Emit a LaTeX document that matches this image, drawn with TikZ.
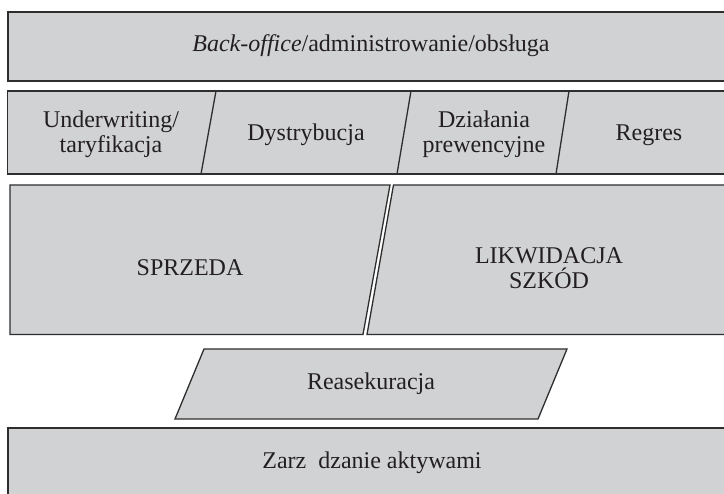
\documentclass[tikz,border=0pt]{standalone}
\usepackage{fontspec}
\setmainfont{Liberation Serif}
\begin{document}
\begin{tikzpicture}[x=1pt,y=-1pt,
  blk/.style={draw=lineC,fill=fillC,line width=1.3pt,line join=miter},
  divl/.style={draw=lineC,line width=1.3pt},
  lbl/.style={text=textC,font=\fontsize{24}{25}\selectfont,align=center,inner sep=0pt}]
\definecolor{fillC}{HTML}{D1D2D4}
\definecolor{lineC}{HTML}{2E2E2E}
\definecolor{textC}{HTML}{231F20}
\useasboundingbox (0,0) rectangle (724,494);
\clip (0,0) rectangle (724,494);
% top box
\path[blk] (8,12) rectangle (740,81);
% row 2
\path[blk] (7.5,91) rectangle (740,174);
\coordinate (d1t) at (216,91); \coordinate (d1b) at (201,174);
\coordinate (d2t) at (411,91); \coordinate (d2b) at (397,174);
\coordinate (d3t) at (569,91); \coordinate (d3b) at (556,174);
\draw[divl] (d1t) -- (d1b);
\draw[divl] (d2t) -- (d2b);
\draw[divl] (d3t) -- (d3b);
% row 3
\path[blk] (10,185) -- (390,185) -- (363,334.5) -- (10,334.5) -- cycle;
\path[blk] (393.5,185) -- (740,185) -- (740,334.5) -- (367,334.5) -- cycle;
% reasekuracja
\path[blk] (204,349) -- (567,349) -- (538,419) -- (175,419) -- cycle;
% bottom
\path[blk] (8,428) rectangle (740,510);
% labels
\node[lbl] (bo) at (371,46) {\textit{Back-office}/administrowanie/obsługa};
\node[lbl] (uw) at (111,134) {Underwriting/\\taryfikacja};
\node[lbl] (dy) at (306,135) {Dystrybucja};
\node[lbl] (dp) at (484,134) {Działania\\prewencyjne};
\node[lbl] (rg) at (649,135) {Regres};
\node[lbl] (sp) at (190,268) {SPRZEDA};
\node[lbl] (lk) at (549,268) {LIKWIDACJA\\SZKÓD};
\node[lbl] (re) at (371,384) {Reasekuracja};
\node[lbl] (za) at (372,463) {Zarz~~dzanie aktywami};
\end{tikzpicture}
\end{document}
